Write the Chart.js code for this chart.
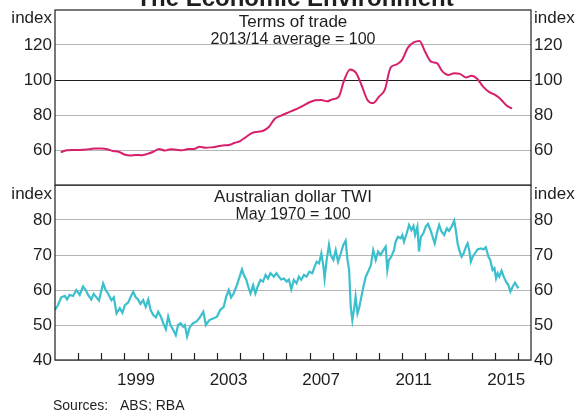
<!DOCTYPE html>
<html>
<head>
<meta charset="utf-8">
<script src="https://cdn.jsdelivr.net/npm/chart.js@4.4.1/dist/chart.umd.min.js"></script>
<style>
  body { margin: 0; background: #fff; }
  #wrap { position: relative; width: 577px; height: 411px; overflow: hidden; background: #fff; }
  #wrap canvas { position: absolute; left: 0; }
  #totChart { top: 0; }
  #twiChart { top: 185px; }
</style>
</head>
<body>
<div id="wrap">
  <canvas id="totChart" width="577" height="186"></canvas>
  <canvas id="twiChart" width="577" height="226"></canvas>
</div>
<script>
// Terms of trade, quarterly from 1996 Q2 (2013/14 average = 100)
const totStart = 1996.25;
const totValues = [
    58.8, 59.8, 60.0, 60.0, 60.2, 60.5, 60.9, 60.8, 60.4, 59.4,
    59.0, 57.4, 56.8, 57.2, 57.0, 57.8, 59.0, 60.6, 59.7, 60.5,
    60.1, 59.8, 60.6, 60.6, 61.9, 61.3, 61.5, 62.0, 62.6, 62.8,
    64.0, 65.1, 67.4, 69.6, 70.4, 71.0, 73.3, 77.9, 79.5, 81.0,
    82.4, 83.8, 85.5, 87.3, 88.4, 88.6, 87.8, 89.0, 90.2, 100.0,
    106.0, 104.2, 97.0, 88.6, 86.8, 90.5, 94.3, 107.0, 108.8, 111.5,
    118.5, 121.5, 122.3, 116.0, 110.5, 109.6, 104.8, 102.9, 103.8, 103.5,
    101.5, 102.4, 100.6, 96.2, 93.2, 91.6, 89.2, 85.6, 83.6
];

// Australian dollar TWI (May 1970 = 100)
const twiDates = [
    1996.00, 1996.13, 1996.27, 1996.42, 1996.52, 1996.63, 1996.78, 1996.92, 1997.07, 1997.21,
    1997.33, 1997.43, 1997.57, 1997.67, 1997.79, 1997.90, 1998.01, 1998.08, 1998.19, 1998.29,
    1998.44, 1998.54, 1998.66, 1998.80, 1998.91, 1999.02, 1999.16, 1999.26, 1999.38, 1999.49,
    1999.59, 1999.69, 1999.81, 1999.92, 2000.03, 2000.13, 2000.24, 2000.36, 2000.46, 2000.56,
    2000.68, 2000.79, 2000.89, 2000.99, 2001.11, 2001.22, 2001.32, 2001.43, 2001.54, 2001.61,
    2001.71, 2001.83, 2001.97, 2002.12, 2002.26, 2002.41, 2002.52, 2002.67, 2002.86, 2003.00,
    2003.14, 2003.29, 2003.40, 2003.51, 2003.61, 2003.72, 2003.84, 2003.98, 2004.08, 2004.16,
    2004.27, 2004.37, 2004.45, 2004.56, 2004.66, 2004.76, 2004.88, 2004.99, 2005.10, 2005.20,
    2005.31, 2005.46, 2005.57, 2005.67, 2005.77, 2005.89, 2006.01, 2006.11, 2006.21, 2006.32,
    2006.44, 2006.54, 2006.64, 2006.76, 2006.87, 2006.99, 2007.12, 2007.22, 2007.31, 2007.41,
    2007.51, 2007.60, 2007.65, 2007.74, 2007.84, 2007.91, 2008.03, 2008.13, 2008.23, 2008.35,
    2008.46, 2008.56, 2008.64, 2008.71, 2008.78, 2008.85, 2008.92, 2008.99, 2009.07, 2009.14,
    2009.21, 2009.33, 2009.43, 2009.53, 2009.65, 2009.75, 2009.86, 2009.96, 2010.07, 2010.19,
    2010.29, 2010.36, 2010.43, 2010.53, 2010.65, 2010.72, 2010.82, 2010.94, 2011.01, 2011.08,
    2011.20, 2011.30, 2011.40, 2011.49, 2011.56, 2011.66, 2011.73, 2011.81, 2011.92, 2012.02,
    2012.12, 2012.24, 2012.36, 2012.41, 2012.50, 2012.60, 2012.70, 2012.82, 2012.93, 2013.03,
    2013.14, 2013.25, 2013.32, 2013.40, 2013.47, 2013.57, 2013.66, 2013.76, 2013.83, 2013.90,
    2013.97, 2014.05, 2014.15, 2014.26, 2014.41, 2014.52, 2014.62, 2014.73, 2014.81, 2014.91,
    2014.99, 2015.06, 2015.13, 2015.20, 2015.30, 2015.39, 2015.49, 2015.59, 2015.68, 2015.78,
    2015.88, 2015.97, 2016.03
];
const twiValues = [
    54.3, 55.7, 57.9, 58.3, 57.3, 58.6, 58.3, 60.0, 58.6, 61.0,
    60.0, 58.6, 57.3, 58.9, 57.9, 57.0, 60.0, 61.9, 60.0, 59.0,
    57.1, 57.9, 53.3, 54.8, 53.5, 55.7, 56.4, 57.9, 59.5, 57.9,
    57.3, 56.0, 57.1, 55.2, 57.3, 54.3, 52.9, 52.2, 53.8, 52.6,
    50.5, 48.8, 52.4, 50.0, 48.6, 47.1, 50.0, 50.5, 49.5, 50.0,
    46.7, 49.5, 50.5, 51.0, 52.2, 53.8, 50.0, 51.4, 51.9, 52.4,
    54.3, 55.2, 58.1, 60.0, 57.9, 59.0, 61.0, 63.8, 65.9, 64.3,
    62.9, 60.5, 59.0, 61.4, 59.0, 61.0, 62.9, 62.4, 64.3, 63.3,
    64.8, 63.8, 64.8, 63.8, 63.0, 63.3, 62.4, 63.0, 60.2, 62.9,
    61.9, 63.8, 62.9, 64.3, 63.8, 65.2, 64.8, 66.7, 68.1, 67.6,
    70.5, 66.7, 63.3, 68.6, 72.9, 70.0, 68.6, 71.4, 68.1, 70.5,
    72.9, 74.1, 68.6, 65.7, 55.2, 51.4, 54.3, 58.1, 53.3, 54.8,
    57.1, 61.0, 63.8, 65.2, 67.1, 71.4, 68.6, 71.0, 70.0, 71.4,
    72.4, 65.7, 68.6, 69.5, 71.4, 73.8, 75.2, 74.8, 75.7, 73.8,
    76.2, 78.6, 77.1, 78.3, 75.7, 78.1, 71.0, 75.2, 76.2, 78.1,
    78.9, 76.9, 74.3, 73.3, 76.2, 78.6, 76.7, 75.7, 77.6, 76.9,
    78.1, 79.8, 77.1, 73.3, 71.4, 69.5, 70.5, 72.4, 73.3, 71.4,
    68.1, 69.5, 70.5, 71.6, 71.9, 71.6, 72.2, 69.5, 68.6, 65.7,
    66.2, 63.3, 64.8, 63.8, 65.5, 63.8, 62.4, 61.4, 59.5, 61.0,
    62.1, 61.0, 60.5
];

const totTicks = [60, 80, 100, 120];
const twiTicks = [40, 50, 60, 70, 80];
const yearLabels = [1999, 2003, 2007, 2011, 2015];
const xMin = 1996;
const xMax = 2016.57;

const fontFamily = '"Liberation Sans", Arial, sans-serif';
const textColor = '#1e1e1e';

const totPoints = totValues.map((v, i) => ({ x: totStart + i * 0.25, y: v }));
const twiPoints = twiValues.map((v, i) => ({ x: twiDates[i], y: v }));

// texts drawn on the canvas (titles, axis units)
const panelText = {
    id: 'panelText',
    afterDraw(chart, args, opts) {
        const ctx = chart.ctx;
        ctx.save();
        ctx.fillStyle = textColor;
        (opts.items || []).forEach(t => {
            ctx.font = (t.weight || 'normal') + ' ' + t.size + 'px ' + fontFamily;
            ctx.textAlign = t.align || 'center';
            ctx.textBaseline = t.baseline || 'middle';
            ctx.fillText(t.text, t.x, t.y);
        });
        ctx.restore();
    }
};

// black box round the plot area
const frame = {
    id: 'frame',
    afterDatasetsDraw(chart) {
        const a = chart.chartArea;
        const ctx = chart.ctx;
        ctx.save();
        ctx.strokeStyle = '#1e1e1e';
        ctx.lineWidth = 1.2;
        ctx.strokeRect(a.left, a.top, a.right - a.left, a.bottom - a.top);
        ctx.restore();
    }
};

// short inward ticks at each year boundary
const yearTicks = {
    id: 'yearTicks',
    afterDatasetsDraw(chart) {
        const x = chart.scales.x;
        const bottom = chart.chartArea.bottom;
        const ctx = chart.ctx;
        ctx.save();
        ctx.strokeStyle = '#1e1e1e';
        ctx.lineWidth = 1.2;
        for (let yr = Math.ceil(xMin + 0.5); yr <= Math.floor(xMax); yr++) {
            const px = Math.round(x.getPixelForValue(yr)) + 0.5;
            ctx.beginPath();
            ctx.moveTo(px, bottom);
            ctx.lineTo(px, bottom - 7);
            ctx.stroke();
        }
        ctx.restore();
    }
};

function yAxis(position, min, max, ticks, width, darkAt) {
    return {
        position: position,
        min: min,
        max: max,
        afterBuildTicks: s => { s.ticks = ticks.map(v => ({ value: v })); },
        afterFit: s => { s.width = width; s.paddingTop = 0; s.paddingBottom = 0; },
        grid: {
            display: position === 'left',
            drawTicks: false,
            lineWidth: 1,
            color: c => (c.tick && c.tick.value === darkAt) ? '#1e1e1e' : '#b5b5b5'
        },
        border: { display: false },
        ticks: {
            padding: 3,
            color: textColor,
            font: { family: fontFamily, size: 17 }
        }
    };
}

new Chart(document.getElementById('totChart'), {
    type: 'line',
    data: {
        datasets: [{
            label: 'Terms of trade',
            data: totPoints,
            borderColor: '#d81f6c',
            borderWidth: 2,
            pointRadius: 0,
            cubicInterpolationMode: 'monotone'
        }]
    },
    options: {
        responsive: false,
        animation: false,
        layout: { padding: { top: 10, bottom: 1, left: 0, right: 0 } },
        scales: {
            x: { type: 'linear', min: xMin, max: xMax, display: false },
            y: yAxis('left', 40, 140, totTicks, 55, 100),
            y2: yAxis('right', 40, 140, totTicks, 46, null)
        },
        plugins: {
            legend: { display: false },
            tooltip: { enabled: false },
            panelText: {
                items: [
                    { text: 'The Economic Environment', x: 295, y: 5.5, size: 24, weight: 'bold', baseline: 'alphabetic' },
                    { text: 'Terms of trade', x: 293, y: 22, size: 17 },
                    { text: '2013/14 average = 100', x: 293, y: 40, size: 16 },
                    { text: 'index', x: 52, y: 18.5, size: 17, align: 'right' },
                    { text: 'index', x: 534, y: 18.5, size: 17, align: 'left' }
                ]
            }
        }
    },
    plugins: [panelText, frame]
});

new Chart(document.getElementById('twiChart'), {
    type: 'line',
    data: {
        datasets: [{
            label: 'Australian dollar TWI',
            data: twiPoints,
            borderColor: '#3cbfcc',
            borderWidth: 2.2,
            pointRadius: 0,
            tension: 0
        }]
    },
    options: {
        responsive: false,
        animation: false,
        layout: { padding: { top: 0, bottom: 0, left: 0, right: 0 } },
        scales: {
            x: {
                type: 'linear',
                min: xMin,
                max: xMax,
                afterBuildTicks: s => { s.ticks = yearLabels.map(v => ({ value: v + 0.5 })); },
                afterFit: s => { s.height = 51; s.paddingLeft = 0; s.paddingRight = 0; },
                grid: { display: false },
                border: { display: false },
                ticks: {
                    padding: 2,
                    maxRotation: 0,
                    color: textColor,
                    font: { family: fontFamily, size: 17 },
                    callback: v => String(Math.floor(v))
                }
            },
            y: yAxis('left', 40, 90, twiTicks, 55, null),
            y2: yAxis('right', 40, 90, twiTicks, 46, null)
        },
        plugins: {
            legend: { display: false },
            tooltip: { enabled: false },
            panelText: {
                items: [
                    { text: 'Australian dollar TWI', x: 293, y: 12.5, size: 17 },
                    { text: 'May 1970 = 100', x: 293, y: 29.5, size: 16 },
                    { text: 'index', x: 52, y: 9, size: 17, align: 'right' },
                    { text: 'index', x: 534, y: 9, size: 17, align: 'left' },
                    { text: 'Sources:   ABS; RBA', x: 53, y: 225, size: 14, align: 'left', baseline: 'alphabetic' }
                ]
            }
        }
    },
    plugins: [panelText, frame, yearTicks]
});
</script>
</body>
</html>
